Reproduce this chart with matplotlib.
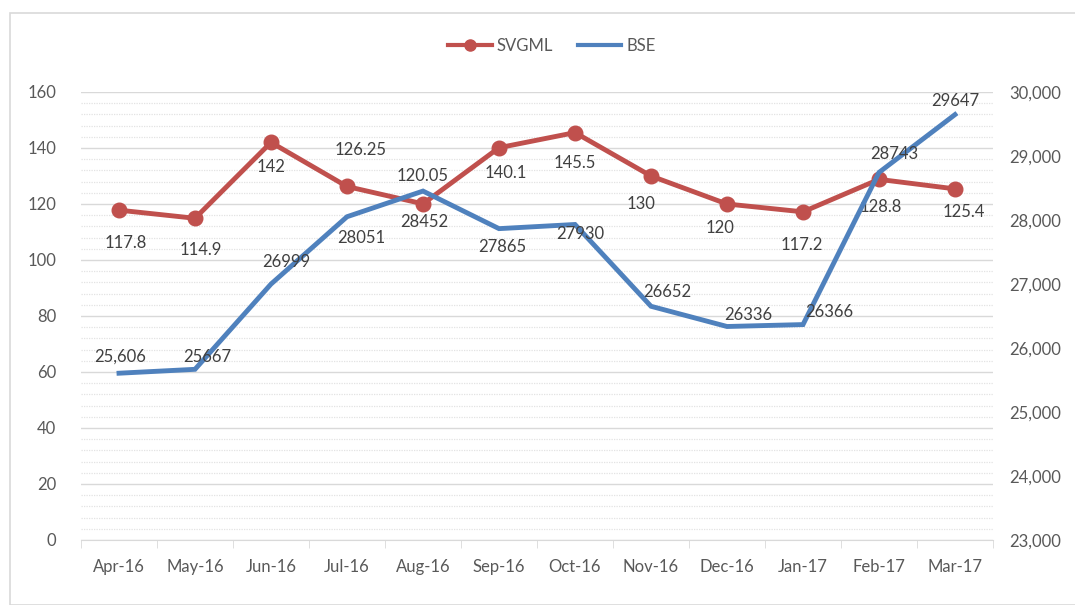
import matplotlib
matplotlib.use("Agg")
import matplotlib.pyplot as plt
from matplotlib.ticker import MultipleLocator, FuncFormatter
from matplotlib.patches import Rectangle
from matplotlib.lines import Line2D

plt.rcParams['font.family'] = ['Lato', 'DejaVu Sans']

months = ["Apr-16", "May-16", "Jun-16", "Jul-16", "Aug-16", "Sep-16",
          "Oct-16", "Nov-16", "Dec-16", "Jan-17", "Feb-17", "Mar-17"]
svgml = [117.8, 114.9, 142, 126.25, 120.05, 140.1, 145.5, 130, 120, 117.2, 128.8, 125.4]
bse = [25606, 25667, 26999, 28051, 28452, 27865, 27930, 26652, 26336, 26366, 28743, 29647]
svgml_labels = ["117.8", "114.9", "142", "126.25", "120.05", "140.1", "145.5",
                "130", "120", "117.2", "128.8", "125.4"]
bse_labels = ["25,606", "25667", "26999", "28051", "28452", "27865", "27930",
              "26652", "26336", "26366", "28743", "29647"]

# label offsets in points (style)
svg_off = [(5, -24), (4, -23), (0, -18), (10, 26), (0, 20), (5, -18), (0, -22),
           (-7, -20), (-5, -17), (-1, -24), (1, -20), (6, -17)]
bse_off = [(1, 12), (9, 9), (11, 16), (10, -15), (1, -22), (2, -13), (4, -7),
           (12, 10), (15, 8), (19, 9), (11, 13), (0, 10)]

RED = "#C0504D"
BLUE = "#4F81BD"
TXT = "#404040"
AX = "#595959"

fig = plt.figure(figsize=(10.75, 6.05), dpi=100)
fig.patches.append(Rectangle((10/1075, 0), 1.2, 1 - 13/605, transform=fig.transFigure,
                             fill=False, edgecolor="#D9D9D9", linewidth=1.2))

ax = fig.add_axes([81/1075, 1 - 540/605, (993-81)/1075, (540-92)/605])
ax2 = ax.twinx()

x = list(range(len(months)))
ax.set_xlim(-0.5, len(months) - 0.5)
ax.set_ylim(0, 160)
ax2.set_ylim(23000, 30000)

ax.yaxis.set_major_locator(MultipleLocator(20))
ax.yaxis.set_minor_locator(MultipleLocator(4))
ax2.yaxis.set_major_locator(MultipleLocator(1000))
ax2.yaxis.set_major_formatter(FuncFormatter(lambda v, p: f"{int(v):,}"))

ax.grid(which="major", axis="y", color="#D9D9D9", linewidth=1.0)
ax.grid(which="minor", axis="y", color="#E3E3E3", linewidth=0.9, linestyle=(0, (1, 1)))
ax.set_axisbelow(True)

for a in (ax, ax2):
    for s in ("top", "left", "right"):
        a.spines[s].set_visible(False)
    a.spines["bottom"].set_color("#D9D9D9")
ax2.spines["bottom"].set_visible(False)

FS = 12
ax.set_xticks(x)
ax.set_xticklabels(months)
ax.tick_params(axis="x", which="major", length=0, pad=14, labelsize=FS, labelcolor=AX)
ax.set_xticks([i + 0.5 for i in range(-1, len(months))], minor=True)
ax.tick_params(axis="x", which="minor", length=6, color="#D9D9D9", direction="out")
ax.tick_params(axis="y", which="both", length=0, labelsize=FS, labelcolor=AX, pad=18)
ax2.tick_params(axis="y", which="both", length=0, labelsize=FS, labelcolor=AX, pad=12)

ax.plot(x, svgml, color=RED, linewidth=3.5, marker="o", markersize=10.5, zorder=3)
ax2.plot(x, bse, color=BLUE, linewidth=3.5, solid_joinstyle="miter", zorder=2)

for i, (v, lab) in enumerate(zip(svgml, svgml_labels)):
    ax.annotate(lab, (i, v), xytext=svg_off[i], textcoords="offset points",
                ha="center", va="center", fontsize=FS, color=TXT, zorder=5)
for i, (v, lab) in enumerate(zip(bse, bse_labels)):
    ax2.annotate(lab, (i, v), xytext=bse_off[i], textcoords="offset points",
                 ha="center", va="center", fontsize=FS, color=TXT, zorder=5)

handles = [Line2D([], [], color=RED, linewidth=3, marker="o", markersize=8),
           Line2D([], [], color=BLUE, linewidth=3)]
fig.legend(handles, ["SVGML", "BSE"], loc="center", bbox_to_anchor=(552/1075, 1 - 46/605),
           ncol=2, frameon=False, fontsize=FS, labelcolor=AX, handlelength=2.6,
           handletextpad=0.3, columnspacing=1.5)

fig.savefig("out.png", dpi=100, facecolor="white")
